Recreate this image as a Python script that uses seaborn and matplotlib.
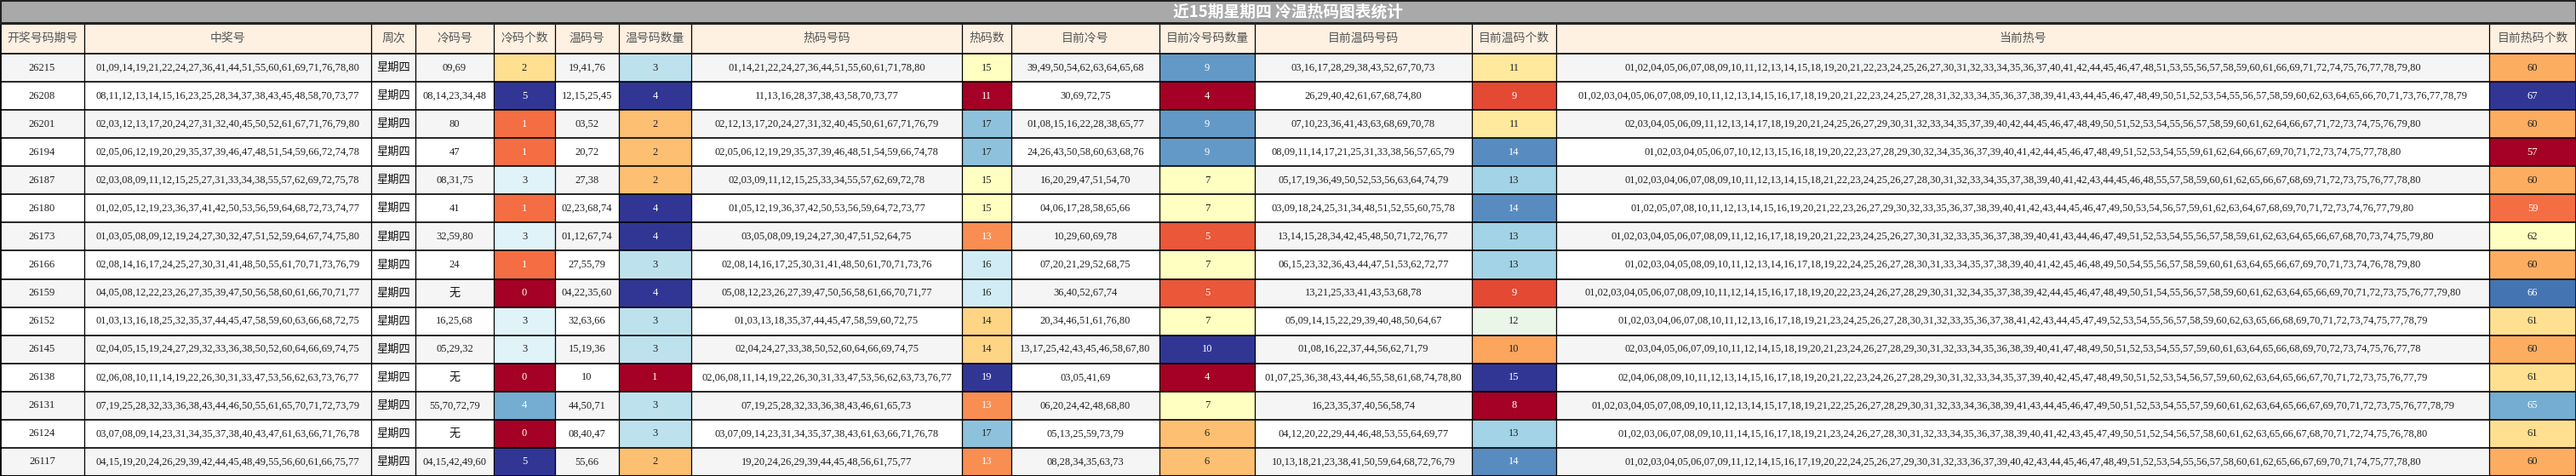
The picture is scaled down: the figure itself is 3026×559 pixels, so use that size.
import matplotlib
matplotlib.use("Agg")
import matplotlib.pyplot as plt
from matplotlib.patches import Rectangle
from matplotlib.colors import Normalize
import seaborn as sns

title = "近15期星期四 冷温热码图表统计"
headers = ["开奖号码期号", "中奖号", "周次", "冷码号", "冷码个数", "温码号", "温号码数量",
           "热码号码", "热码数", "目前冷号", "目前冷号码数量", "目前温码号码", "目前温码个数",
           "当前热号", "目前热码个数"]

issues = ["26215", "26208", "26201", "26194", "26187", "26180", "26173", "26166",
          "26159", "26152", "26145", "26138", "26131", "26124", "26117"]
winning = [
    "01,09,14,19,21,22,24,27,36,41,44,51,55,60,61,69,71,76,78,80",
    "08,11,12,13,14,15,16,23,25,28,34,37,38,43,45,48,58,70,73,77",
    "02,03,12,13,17,20,24,27,31,32,40,45,50,52,61,67,71,76,79,80",
    "02,05,06,12,19,20,29,35,37,39,46,47,48,51,54,59,66,72,74,78",
    "02,03,08,09,11,12,15,25,27,31,33,34,38,55,57,62,69,72,75,78",
    "01,02,05,12,19,23,36,37,41,42,50,53,56,59,64,68,72,73,74,77",
    "01,03,05,08,09,12,19,24,27,30,32,47,51,52,59,64,67,74,75,80",
    "02,08,14,16,17,24,25,27,30,31,41,48,50,55,61,70,71,73,76,79",
    "04,05,08,12,22,23,26,27,35,39,47,50,56,58,60,61,66,70,71,77",
    "01,03,13,16,18,25,32,35,37,44,45,47,58,59,60,63,66,68,72,75",
    "02,04,05,15,19,24,27,29,32,33,36,38,50,52,60,64,66,69,74,75",
    "02,06,08,10,11,14,19,22,26,30,31,33,47,53,56,62,63,73,76,77",
    "07,19,25,28,32,33,36,38,43,44,46,50,55,61,65,70,71,72,73,79",
    "03,07,08,09,14,23,31,34,35,37,38,40,43,47,61,63,66,71,76,78",
    "04,15,19,20,24,26,29,39,42,44,45,48,49,55,56,60,61,66,75,77",
]
weekday = ["星期四"] * 15
cold_nums = ["09,69", "08,14,23,34,48", "80", "47", "08,31,75", "41", "32,59,80", "24",
             "无", "16,25,68", "05,29,32", "无", "55,70,72,79", "无", "04,15,42,49,60"]
cold_count = [2, 5, 1, 1, 3, 1, 3, 1, 0, 3, 3, 0, 4, 0, 5]
warm_nums = ["19,41,76", "12,15,25,45", "03,52", "20,72", "27,38", "02,23,68,74",
             "01,12,67,74", "27,55,79", "04,22,35,60", "32,63,66", "15,19,36", "10",
             "44,50,71", "08,40,47", "55,66"]
warm_count = [3, 4, 2, 2, 2, 4, 4, 3, 4, 3, 3, 1, 3, 3, 2]
hot_nums = [
    "01,14,21,22,24,27,36,44,51,55,60,61,71,78,80",
    "11,13,16,28,37,38,43,58,70,73,77",
    "02,12,13,17,20,24,27,31,32,40,45,50,61,67,71,76,79",
    "02,05,06,12,19,29,35,37,39,46,48,51,54,59,66,74,78",
    "02,03,09,11,12,15,25,33,34,55,57,62,69,72,78",
    "01,05,12,19,36,37,42,50,53,56,59,64,72,73,77",
    "03,05,08,09,19,24,27,30,47,51,52,64,75",
    "02,08,14,16,17,25,30,31,41,48,50,61,70,71,73,76",
    "05,08,12,23,26,27,39,47,50,56,58,61,66,70,71,77",
    "01,03,13,18,35,37,44,45,47,58,59,60,72,75",
    "02,04,24,27,33,38,50,52,60,64,66,69,74,75",
    "02,06,08,11,14,19,22,26,30,31,33,47,53,56,62,63,73,76,77",
    "07,19,25,28,32,33,36,38,43,46,61,65,73",
    "03,07,09,14,23,31,34,35,37,38,43,61,63,66,71,76,78",
    "19,20,24,26,29,39,44,45,48,56,61,75,77",
]
hot_count = [15, 11, 17, 17, 15, 15, 13, 16, 16, 14, 14, 19, 13, 17, 13]
cur_cold = ["39,49,50,54,62,63,64,65,68", "30,69,72,75", "01,08,15,16,22,28,38,65,77",
            "24,26,43,50,58,60,63,68,76", "16,20,29,47,51,54,70", "04,06,17,28,58,65,66",
            "10,29,60,69,78", "07,20,21,29,52,68,75", "36,40,52,67,74", "20,34,46,51,61,76,80",
            "13,17,25,42,43,45,46,58,67,80", "03,05,41,69", "06,20,24,42,48,68,80",
            "05,13,25,59,73,79", "08,28,34,35,63,73"]
cur_cold_count = [9, 4, 9, 9, 7, 7, 5, 7, 5, 7, 10, 4, 7, 6, 6]
cur_warm = [
    "03,16,17,28,29,38,43,52,67,70,73",
    "26,29,40,42,61,67,68,74,80",
    "07,10,23,36,41,43,63,68,69,70,78",
    "08,09,11,14,17,21,25,31,33,38,56,57,65,79",
    "05,17,19,36,49,50,52,53,56,63,64,74,79",
    "03,09,18,24,25,31,34,48,51,52,55,60,75,78",
    "13,14,15,28,34,42,45,48,50,71,72,76,77",
    "06,15,23,32,36,43,44,47,51,53,62,72,77",
    "13,21,25,33,41,43,53,68,78",
    "05,09,14,15,22,29,39,40,48,50,64,67",
    "01,08,16,22,37,44,56,62,71,79",
    "01,07,25,36,38,43,44,46,55,58,61,68,74,78,80",
    "16,23,35,37,40,56,58,74",
    "04,12,20,22,29,44,46,48,53,55,64,69,77",
    "10,13,18,21,23,38,41,50,59,64,68,72,76,79",
]
cur_warm_count = [11, 9, 11, 14, 13, 14, 13, 13, 9, 12, 10, 15, 8, 13, 14]
cur_hot = [
    "01,02,04,05,06,07,08,09,10,11,12,13,14,15,18,19,20,21,22,23,24,25,26,27,30,31,32,33,34,35,36,37,40,41,42,44,45,46,47,48,51,53,55,56,57,58,59,60,61,66,69,71,72,74,75,76,77,78,79,80",
    "01,02,03,04,05,06,07,08,09,10,11,12,13,14,15,16,17,18,19,20,21,22,23,24,25,27,28,31,32,33,34,35,36,37,38,39,41,43,44,45,46,47,48,49,50,51,52,53,54,55,56,57,58,59,60,62,63,64,65,66,70,71,73,76,77,78,79",
    "02,03,04,05,06,09,11,12,13,14,17,18,19,20,21,24,25,26,27,29,30,31,32,33,34,35,37,39,40,42,44,45,46,47,48,49,50,51,52,53,54,55,56,57,58,59,60,61,62,64,66,67,71,72,73,74,75,76,79,80",
    "01,02,03,04,05,06,07,10,12,13,15,16,18,19,20,22,23,27,28,29,30,32,34,35,36,37,39,40,41,42,44,45,46,47,48,49,51,52,53,54,55,59,61,62,64,66,67,69,70,71,72,73,74,75,77,78,80",
    "01,02,03,04,06,07,08,09,10,11,12,13,14,15,18,21,22,23,24,25,26,27,28,30,31,32,33,34,35,37,38,39,40,41,42,43,44,45,46,48,55,57,58,59,60,61,62,65,66,67,68,69,71,72,73,75,76,77,78,80",
    "01,02,05,07,08,10,11,12,13,14,15,16,19,20,21,22,23,26,27,29,30,32,33,35,36,37,38,39,40,41,42,43,44,45,46,47,49,50,53,54,56,57,59,61,62,63,64,67,68,69,70,71,72,73,74,76,77,79,80",
    "01,02,03,04,05,06,07,08,09,11,12,16,17,18,19,20,21,22,23,24,25,26,27,30,31,32,33,35,36,37,38,39,40,41,43,44,46,47,49,51,52,53,54,55,56,57,58,59,61,62,63,64,65,66,67,68,70,73,74,75,79,80",
    "01,02,03,04,05,08,09,10,11,12,13,14,16,17,18,19,22,24,25,26,27,28,30,31,33,34,35,37,38,39,40,41,42,45,46,48,49,50,54,55,56,57,58,59,60,61,63,64,65,66,67,69,70,71,73,74,76,78,79,80",
    "01,02,03,04,05,06,07,08,09,10,11,12,14,15,16,17,18,19,20,22,23,24,26,27,28,29,30,31,32,34,35,37,38,39,42,44,45,46,47,48,49,50,51,54,55,56,57,58,59,60,61,62,63,64,65,66,69,70,71,72,73,75,76,77,79,80",
    "01,02,03,04,06,07,08,10,11,12,13,16,17,18,19,21,23,24,25,26,27,28,30,31,32,33,35,36,37,38,41,42,43,44,45,47,49,52,53,54,55,56,57,58,59,60,62,63,65,66,68,69,70,71,72,73,74,75,77,78,79",
    "02,03,04,05,06,07,09,10,11,12,14,15,18,19,20,21,23,24,26,27,28,29,30,31,32,33,34,35,36,38,39,40,41,47,48,49,50,51,52,53,54,55,57,59,60,61,63,64,65,66,68,69,70,72,73,74,75,76,77,78",
    "02,04,06,08,09,10,11,12,13,14,15,16,17,18,19,20,21,22,23,24,26,27,28,29,30,31,32,33,34,35,37,39,40,42,45,47,48,49,50,51,52,53,54,56,57,59,60,62,63,64,65,66,67,70,71,72,73,75,76,77,79",
    "01,02,03,04,05,07,08,09,10,11,12,13,14,15,17,18,19,21,22,25,26,27,28,29,30,31,32,33,34,36,38,39,41,43,44,45,46,47,49,50,51,52,53,54,55,57,59,60,61,62,63,64,65,66,67,69,70,71,72,73,75,76,77,78,79",
    "01,02,03,06,07,08,09,10,11,14,15,16,17,18,19,21,23,24,26,27,28,30,31,32,33,34,35,36,37,38,39,40,41,42,43,45,47,49,50,51,52,54,56,57,58,60,61,62,63,65,66,67,68,70,71,72,74,75,76,78,80",
    "01,02,03,04,05,06,07,09,11,12,14,15,16,17,19,20,22,24,25,26,27,29,30,31,32,33,36,37,39,40,42,43,44,45,46,47,48,49,51,52,53,54,55,56,57,58,60,61,62,65,66,67,69,70,71,74,75,77,78,80",
]
cur_hot_count = [60, 67, 60, 57, 60, 59, 62, 60, 66, 61, 60, 61, 65, 61, 60]

columns = [issues, winning, weekday, cold_nums, cold_count, warm_nums, warm_count,
           hot_nums, hot_count, cur_cold, cur_cold_count, cur_warm, cur_warm_count,
           cur_hot, cur_hot_count]
heat_cols = {4, 6, 8, 10, 12, 14}

# layout (pixels)
col_edges = [0, 99, 436, 488, 580, 652, 727, 812, 1130, 1188, 1362, 1474, 1729, 1828, 2924, 3026]
W, H = 3026, 559
title_h, head_bottom = 27, 63
row_h = (H - head_bottom) / len(issues)

sns.set_style("white")
plt.rcParams["font.family"] = ["Liberation Serif", "Noto Sans CJK SC", "DejaVu Sans"]
cjk = ["Noto Sans CJK SC", "DejaVu Sans"]
cmap = sns.color_palette("RdYlBu", as_cmap=True)

fig = plt.figure(figsize=(W / 100, H / 100), dpi=100)
ax = fig.add_axes([0, 0, 1, 1])
ax.set_xlim(0, W)
ax.set_ylim(H, 0)
ax.axis("off")

# title bar
ax.add_patch(Rectangle((0, 0), W, title_h, facecolor="#a9a9a9", edgecolor="none"))
ax.text(W / 2, title_h / 2 + 1, title, ha="center", va="center", color="white",
        fontsize=13.5, fontweight="bold", family=cjk)

# header
ax.add_patch(Rectangle((0, title_h), W, head_bottom - title_h, facecolor="#fef1e2", edgecolor="none"))
for j, h in enumerate(headers):
    xc = (col_edges[j] + col_edges[j + 1]) / 2
    ax.text(xc, (title_h + head_bottom) / 2, h, ha="center", va="center",
            color="#555555", fontsize=10, family=cjk)

for i in range(len(issues)):
    y0 = head_bottom + i * row_h
    bg = "#f5f5f5" if i % 2 == 0 else "white"
    ax.add_patch(Rectangle((0, y0), W, row_h, facecolor=bg, edgecolor="none"))
    for j, col in enumerate(columns):
        x0, x1 = col_edges[j], col_edges[j + 1]
        val = col[i]
        color = "#222222"
        if j in heat_cols:
            norm = Normalize(min(col), max(col))
            frac = norm(val)
            ax.add_patch(Rectangle((x0, y0), x1 - x0, row_h, facecolor=cmap(frac), edgecolor="none"))
            if frac <= 0.25 or frac > 0.75:
                color = "white"
        s = str(val)
        if s in ("无",) or j == 2:
            ax.text((x0 + x1) / 2, y0 + row_h / 2, s, ha="center", va="center",
                    color="#111111", fontsize=9.5, family=cjk)
        else:
            ax.text((x0 + x1) / 2, y0 + row_h / 2, s, ha="center", va="center",
                    color=color, fontsize=9)

# grid lines
for x in col_edges:
    ax.plot([x, x], [title_h, H], color="black", lw=0.9)
for k in range(len(issues) + 1):
    y = head_bottom + k * row_h
    ax.plot([0, W], [y, y], color="black", lw=1.2)
ax.plot([0, W], [title_h, title_h], color="#222222", lw=2.2)
ax.add_patch(Rectangle((0.5, 0.5), W - 1, H - 1, facecolor="none", edgecolor="#222222", lw=1.5))

fig.savefig("out.png", dpi=100)
